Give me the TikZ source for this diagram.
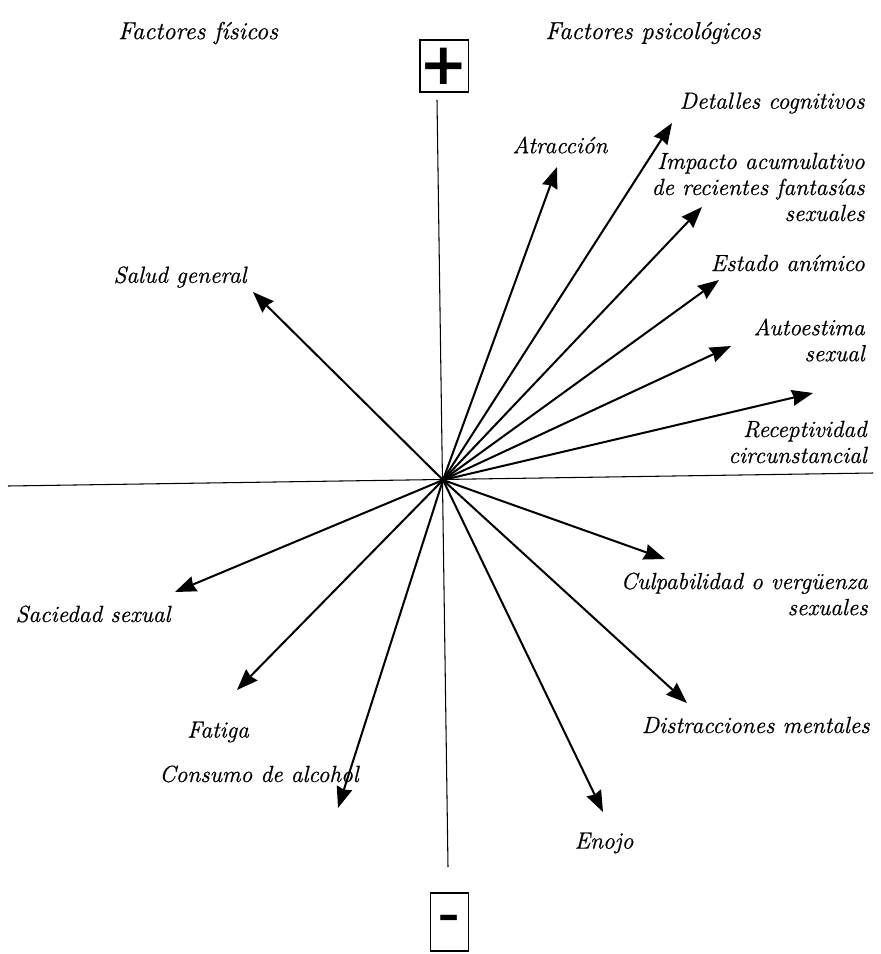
\documentclass[tikz,border=0pt]{standalone}
\usepackage{fontspec}
\setmainfont{Latin Modern Roman}[ItalicFeatures={FakeBold=0.7}]
\newfontfamily\signos{DejaVu Sans}
\usetikzlibrary{arrows.meta}
\tikzset{
    flecha/.style={-{Stealth[length=12pt,width=9pt,inset=1pt]}, line width=1.15pt},
    eje/.style={line width=0.6pt},
    lbl/.style={font=\fontsize{13.3}{14.8}\selectfont\itshape, inner sep=0pt, align=right},
    titulo/.style={font=\fontsize{14}{16}\selectfont\itshape, inner sep=0pt},
    caja/.style={draw, line width=0.9pt, minimum width=0.76cm, inner sep=0pt, font=\signos\bfseries}
}
\begin{document}
\begin{tikzpicture}[x=0.02cm, y=-0.02cm]
    \useasboundingbox (0,0) rectangle (881,954);

    \coordinate (o) at (443,480);
    \coordinate (izq) at (8,486);
    \coordinate (der) at (873,473);
    \coordinate (sup) at (437,100);
    \coordinate (inf) at (448,867);
    \draw[eje] (izq) -- (der);
    \draw[eje] (sup) -- (inf);

    \node[caja, minimum height=1.04cm] (mas) at (444,66) {\fontsize{33}{33}\selectfont +};
    \node[caja, minimum height=1.16cm] (menos) at (449.5,922) {\fontsize{24}{24}\selectfont –};

    \node[titulo] (fis) at (198,33) {Factores físicos};
    \node[titulo] (psi) at (653,33) {Factores psicológicos};

    \node[lbl] (atr) at (560,145) {Atracción};
    \node[lbl, anchor=east] (det) at (865,103) {Detalles cognitivos};
    \node[lbl, anchor=east] (imp) at (865,187) {Impacto acumulativo\\de recientes fantasías\\sexuales};
    \node[lbl, anchor=east] (est) at (865,263) {Estado anímico};
    \node[lbl, anchor=east] (aut) at (865,340) {Autoestima\\sexual};
    \node[lbl, anchor=east] (rec) at (867,442) {Receptividad\\circunstancial};
    \node[lbl] (sal) at (180,277) {Salud general};
    \node[lbl] (sac) at (93,614) {Saciedad sexual};
    \node[lbl] (fat) at (218,732) {Fatiga};
    \node[lbl] (con) at (259,774) {Consumo de alcohol};
    \node[lbl, anchor=east] (cul) at (868,594) {Culpabilidad o vergüenza\\sexuales};
    \node[lbl, anchor=east] (dis) at (870,725) {Distracciones mentales};
    \node[lbl] (eno) at (604,843) {Enojo};

    \coordinate (p-atr) at (557,167);
    \coordinate (p-det) at (672,123);
    \coordinate (p-imp) at (702,207);
    \coordinate (p-est) at (719,280);
    \coordinate (p-aut) at (731,346);
    \coordinate (p-rec) at (813,393);
    \coordinate (p-sal) at (253,292);
    \coordinate (p-sac) at (175,592);
    \coordinate (p-fat) at (237,690);
    \coordinate (p-con) at (338,808);
    \coordinate (p-cul) at (665,559);
    \coordinate (p-dis) at (687,703);
    \coordinate (p-eno) at (603,812);

    \draw[flecha] (o) -- (p-atr);
    \draw[flecha] (o) -- (p-det);
    \draw[flecha] (o) -- (p-imp);
    \draw[flecha] (o) -- (p-est);
    \draw[flecha] (o) -- (p-aut);
    \draw[flecha] (o) -- (p-rec);
    \draw[flecha] (o) -- (p-sal);
    \draw[flecha] (o) -- (p-sac);
    \draw[flecha] (o) -- (p-fat);
    \draw[flecha] (o) -- (p-con);
    \draw[flecha] (o) -- (p-cul);
    \draw[flecha] (o) -- (p-dis);
    \draw[flecha] (o) -- (p-eno);
\end{tikzpicture}
\end{document}
